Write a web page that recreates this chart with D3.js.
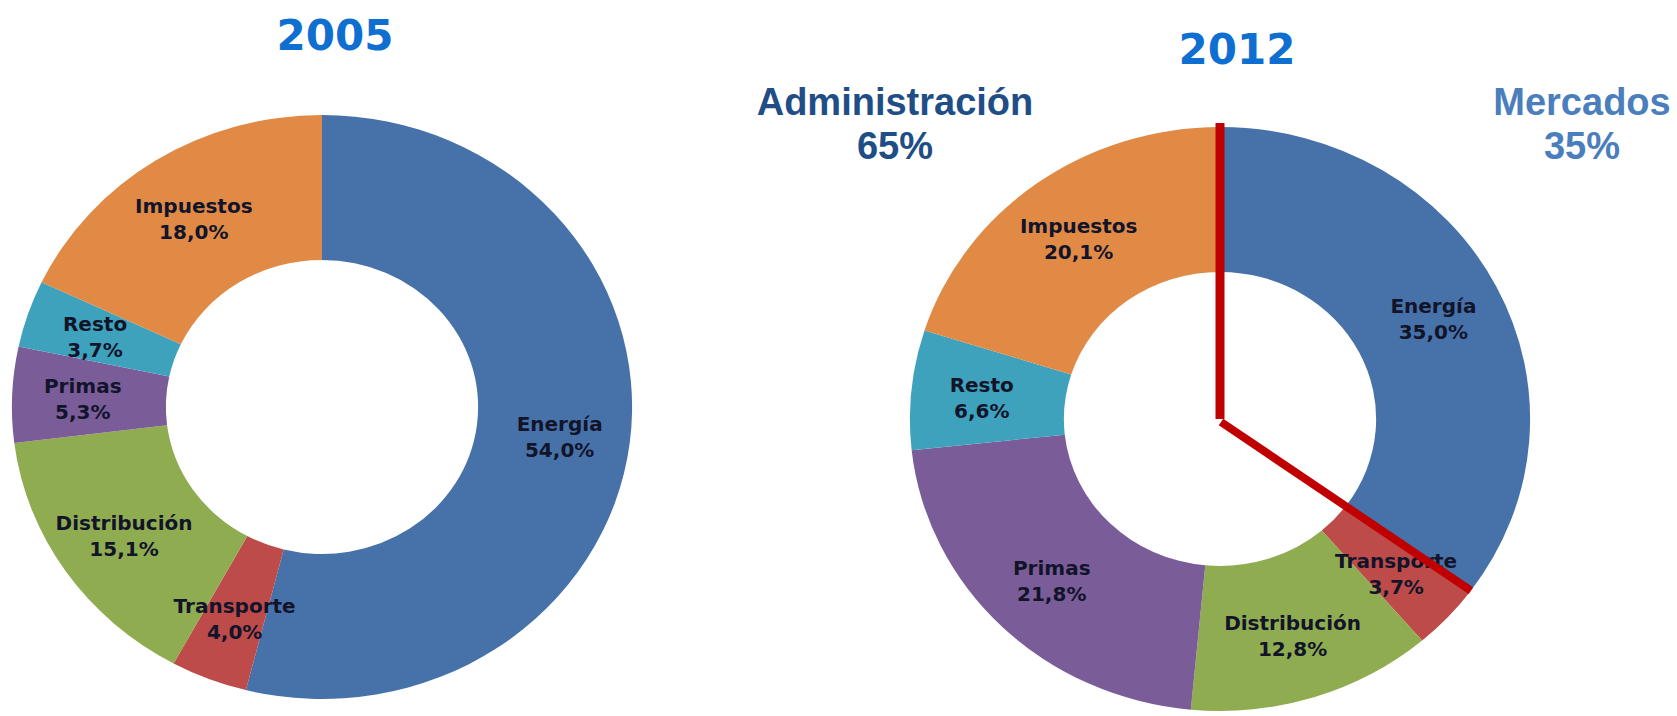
<!DOCTYPE html>
<html>
<head>
<meta charset="utf-8">
<script src="https://cdn.jsdelivr.net/npm/d3@7"></script>
<style>
  html, body { margin: 0; padding: 0; background: #fff; }
  svg { display: block; }
</style>
</head>
<body>
<div id="wrapper"></div>
<script>
const categories = ["Energía", "Transporte", "Distribución", "Primas", "Resto", "Impuestos"]
const values2005 = [54.0, 4.0, 15.1, 5.3, 3.7, 18.0]
const values2012 = [35.0, 3.7, 12.8, 21.8, 6.6, 20.1]
const years = ["2005", "2012"]
const splitNames = ["Administración", "Mercados"]
const splitShares = [65, 35]

const colors = ["#4672a9", "#bd4b49", "#8fac50", "#7a5c98", "#3fa2bd", "#e08a45"]

const dimensions = {
  width: 1677,
  height: 716,
  outer: 292,
  inner: 147,
  stretch: 1.062
}

const charts = [
  { year: years[0], values: values2005, cx: 322, cy: 407, titleX: 335, titleY: 50 },
  { year: years[1], values: values2012, cx: 1220, cy: 419, titleX: 1237, titleY: 64 }
]

const locale = d3.formatLocale({ decimal: ",", thousands: ".", grouping: [3], currency: ["", "€"] })
const pct = locale.format(".1f")

const svg = d3.select("#wrapper")
  .append("svg")
    .attr("width", dimensions.width)
    .attr("height", dimensions.height)

const pie = d3.pie().sort(null).value(d => d.value)
const arc = d3.arc().innerRadius(dimensions.inner).outerRadius(dimensions.outer)
const labelRadius = (dimensions.inner + dimensions.outer) / 2 + 6
const labelArc = d3.arc().innerRadius(labelRadius).outerRadius(labelRadius)

charts.forEach(chart => {
  const data = categories.map((c, i) => ({ name: c, value: chart.values[i], color: colors[i] }))
  const arcs = pie(data)

  const g = svg.append("g")
    .attr("transform", `translate(${chart.cx},${chart.cy})`)

  g.append("g")
    .attr("transform", `scale(${dimensions.stretch},1)`)
    .selectAll("path")
    .data(arcs)
    .join("path")
      .attr("d", arc)
      .attr("fill", d => d.data.color)

  const labels = g.selectAll(".slice-label")
    .data(arcs)
    .join("text")
      .attr("class", "slice-label")
      .attr("transform", d => {
        const [x, y] = labelArc.centroid(d)
        return `translate(${x * dimensions.stretch},${y - 4})`
      })
      .attr("text-anchor", "middle")
      .attr("fill", "#12142a")
      .style("font-family", "'DejaVu Sans', sans-serif")
      .style("font-weight", "bold")
      .style("font-size", "20px")

  labels.append("tspan")
    .attr("x", 0)
    .attr("y", 0)
    .text(d => d.data.name)
  labels.append("tspan")
    .attr("x", 0)
    .attr("y", 26)
    .text(d => pct(d.data.value) + "%")

  svg.append("text")
    .attr("x", chart.titleX)
    .attr("y", chart.titleY)
    .attr("text-anchor", "middle")
    .attr("fill", "#0f6fd0")
    .style("font-family", "'DejaVu Sans', sans-serif")
    .style("font-weight", "bold")
    .style("font-size", "42px")
    .text(chart.year)
})

// split line on the 2012 donut: Mercados share clockwise from 12 o'clock
const right = charts[1]
const splitAngle = 2 * Math.PI * splitShares[1] / 100
const split = svg.append("g")
  .attr("transform", `translate(${right.cx},${right.cy})`)

split.append("line")
  .attr("x1", 0).attr("y1", 0)
  .attr("x2", 0).attr("y2", -dimensions.outer - 4)
  .attr("stroke", "#c00000")
  .attr("stroke-width", 9)

split.append("line")
  .attr("x1", 1).attr("y1", 3)
  .attr("x2", Math.sin(splitAngle) * dimensions.outer * dimensions.stretch)
  .attr("y2", -Math.cos(splitAngle) * dimensions.outer)
  .attr("stroke", "#c00000")
  .attr("stroke-width", 8)

const sideLabels = [
  { name: splitNames[0], share: splitShares[0], x: 895, color: "#1f4e86" },
  { name: splitNames[1], share: splitShares[1], x: 1582, color: "#4a7ebd" }
]

sideLabels.forEach(s => {
  const t = svg.append("text")
    .attr("text-anchor", "middle")
    .attr("fill", s.color)
    .style("font-family", "'Liberation Sans', Arial, sans-serif")
    .style("font-weight", "bold")
    .style("font-size", "38px")
  t.append("tspan").attr("x", s.x).attr("y", 115).text(s.name)
  t.append("tspan").attr("x", s.x).attr("y", 159).text(s.share + "%")
})
</script>
</body>
</html>
